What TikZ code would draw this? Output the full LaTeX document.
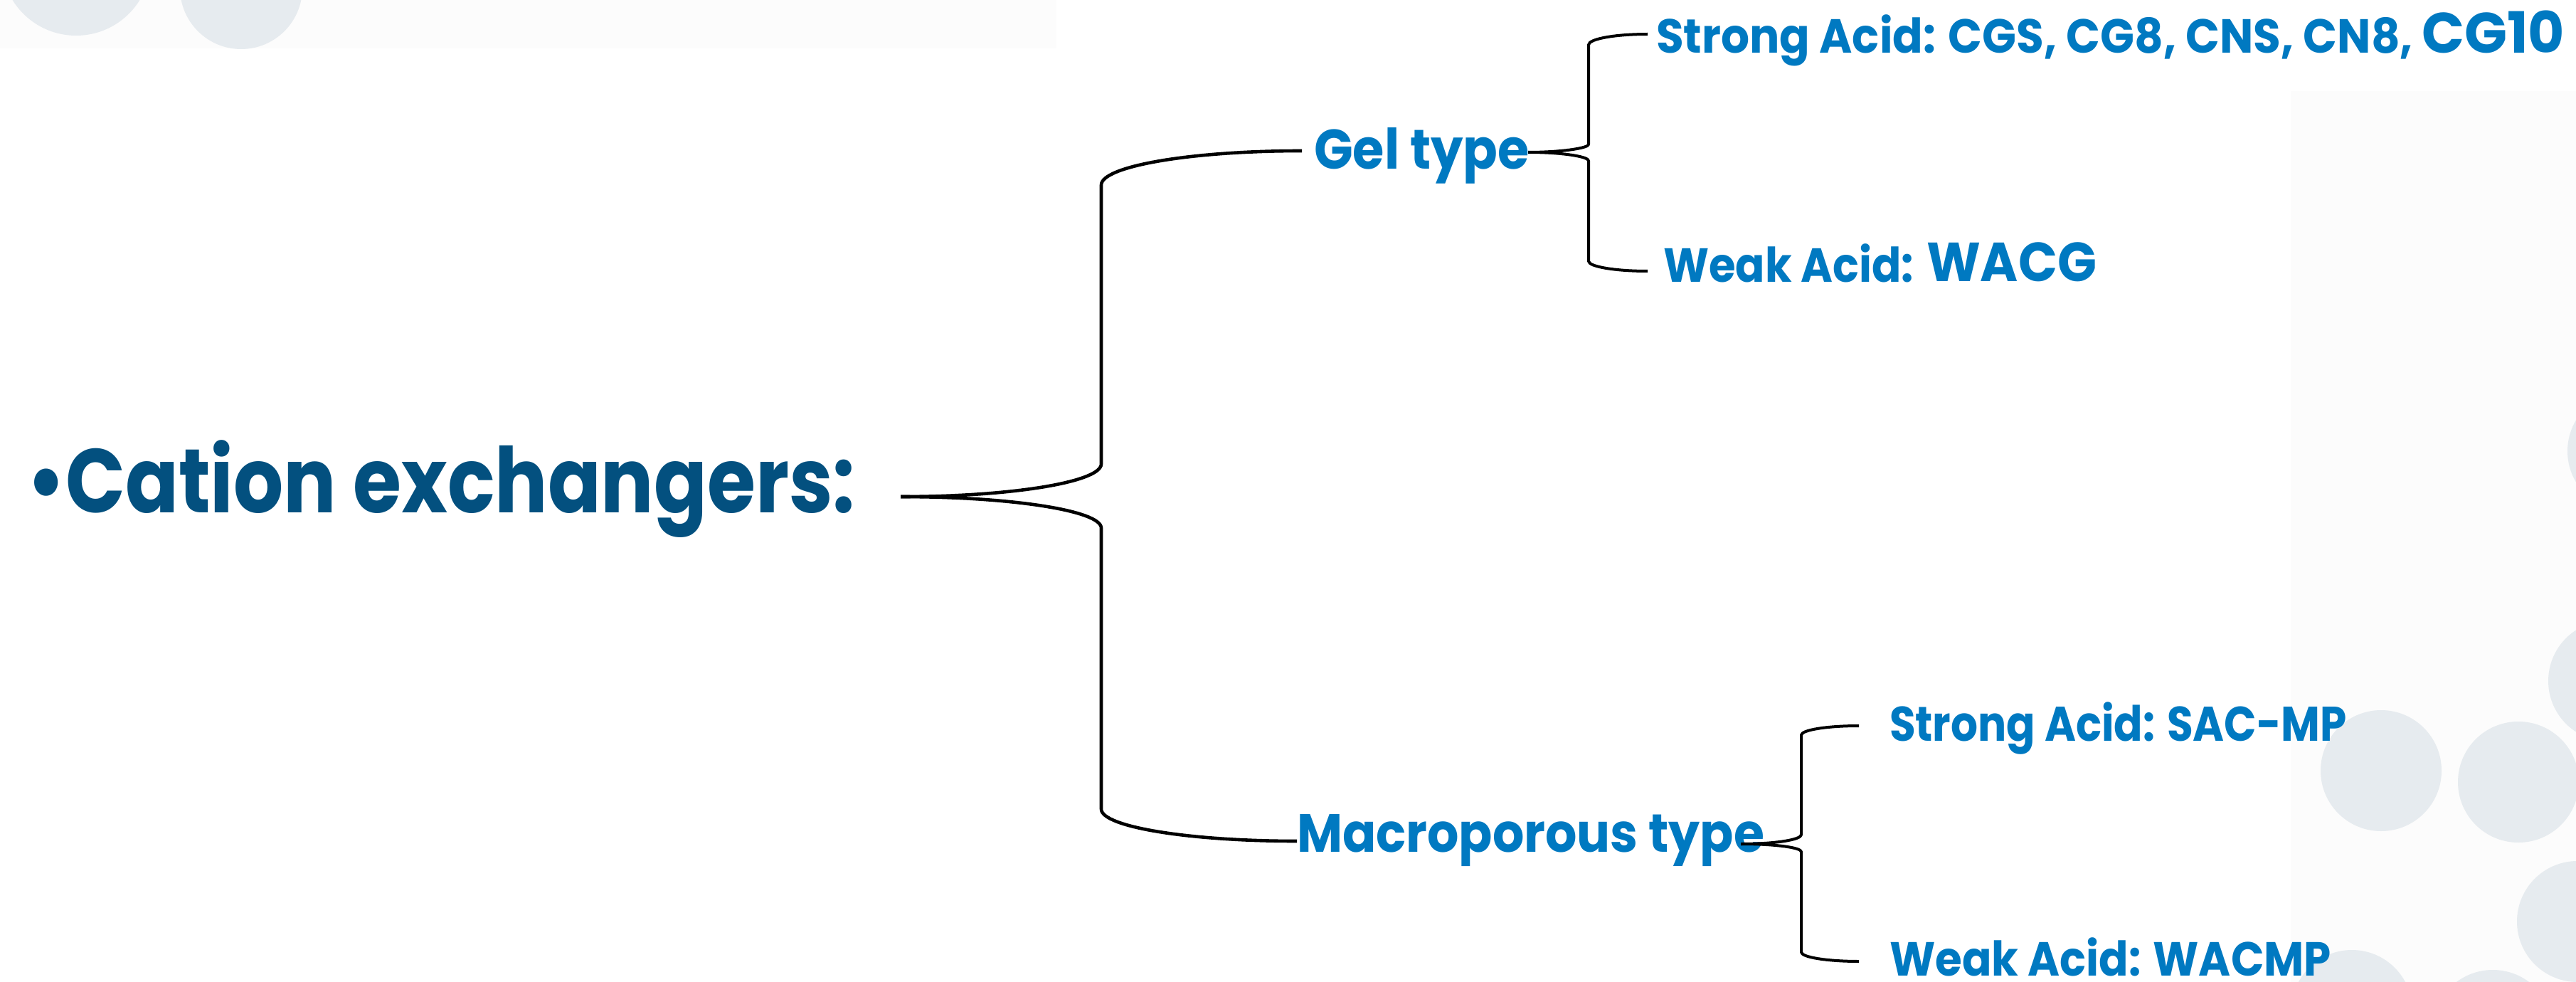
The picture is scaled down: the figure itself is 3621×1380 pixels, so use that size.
\documentclass[tikz,border=0pt]{standalone}
\usepackage{fontspec}
\setmainfont{Poppins}
\usepackage{graphicx}
\definecolor{darkblue}{HTML}{03507F}
\definecolor{lblue}{HTML}{0079C1}
\definecolor{bgpanel}{HTML}{FCFCFC}
\definecolor{dotgray}{HTML}{E6EBEF}
\newcommand{\fitxt}[3]{\resizebox{#2}{\height}{\fontsize{#1}{#1}\selectfont\bfseries #3}}
\begin{document}
\begin{tikzpicture}[x=0.25pt,y=-0.25pt,
  lbl/.style={inner sep=0pt, outer sep=0pt, anchor=base west, text=lblue},
  bigbrace/.style={draw=black, line width=1.15pt, line join=round},
  smallbrace/.style={draw=black, line width=1.0pt, line join=round}]
\useasboundingbox (0,0) rectangle (3621,1380);
\fill[white] (0,0) rectangle (3621,1380);
\fill[bgpanel] (0,0) rectangle (1485,68);
\fill[bgpanel] (3220,128) rectangle (3621,1380);
\begin{scope}
\clip (0,0) rectangle (3621,1380);
\fill[dotgray] (107,-55) circle[radius=105];
\fill[dotgray] (339,-17) circle[radius=86];
\fill[dotgray] (3694,634) circle[radius=85];
\fill[dotgray] (3667,957) circle[radius=85];
\fill[dotgray] (3347,1083) circle[radius=85];
\fill[dotgray] (3540,1099) circle[radius=85];
\fill[dotgray] (3623,1295) circle[radius=85];
\fill[dotgray] (3306,1420) circle[radius=85];
\fill[dotgray] (3504,1448) circle[radius=85];
\end{scope}

\node[lbl, text=darkblue] (cat) at (37,720) {\fitxt{31.8pt}{291.25pt}{•Cation exchangers:}};
\node[lbl] (gel) at (1847,238) {\fitxt{19.6pt}{75.75pt}{Gel type}};
\node[lbl] (sa1) at (2328,75) {\fitxt{16.8pt}{266pt}{Strong Acid: CGS, CG8, CNS, CN8,}\hspace{3pt}\fitxt{20pt}{50.25pt}{CG10}};
\node[lbl] (wa1) at (2338,396) {\fitxt{16.8pt}{88pt}{Weak Acid:}\hspace{4.5pt}\fitxt{19.3pt}{59.75pt}{WACG}};
\node[lbl] (mac) at (1823,1197) {\fitxt{18.9pt}{164.25pt}{Macroporous type}};
\node[lbl] (sa2) at (2656,1041) {\fitxt{17.1pt}{160.75pt}{Strong Acid: SAC-MP}};
\node[lbl] (wa2) at (2656,1371) {\fitxt{16.8pt}{155.25pt}{Weak Acid: WACMP}};

\coordinate (ctip) at (1266,698);
\coordinate (gin) at (1830,212);
\coordinate (min) at (1823,1182);
\draw[bigbrace] (ctip) .. controls (1421.7,698) and (1548,677.4) .. (1548,652) -- (1548,260) .. controls (1548,233.5) and (1674.3,212) .. (gin);
\draw[bigbrace] (ctip) .. controls (1421.7,698) and (1548,717.7) .. (1548,742) -- (1548,1137) .. controls (1548,1161.9) and (1671.1,1182) .. (min);

\coordinate (gtip) at (2148,214);
\coordinate (sa1in) at (2316,48);
\coordinate (wa1in) at (2316,381);
\draw[smallbrace] (gtip) .. controls (2195,214) and (2233,208) .. (2233,203) -- (2233,63) .. controls (2233,54.7) and (2270.2,48) .. (sa1in);
\draw[smallbrace] (gtip) .. controls (2195,214) and (2233,219.9) .. (2233,226) -- (2233,367) .. controls (2233,374.7) and (2270.2,381) .. (wa1in);

\coordinate (mtip) at (2447,1186);
\coordinate (sa2in) at (2613,1020);
\coordinate (wa2in) at (2613,1351);
\draw[smallbrace] (mtip) .. controls (2494,1186) and (2532,1180.2) .. (2532,1173) -- (2532,1033) .. controls (2532,1025.8) and (2568.3,1020) .. (sa2in);
\draw[smallbrace] (mtip) .. controls (2494,1186) and (2532,1190.9) .. (2532,1197) -- (2532,1338) .. controls (2532,1345.2) and (2568.3,1351) .. (wa2in);
\end{tikzpicture}
\end{document}
